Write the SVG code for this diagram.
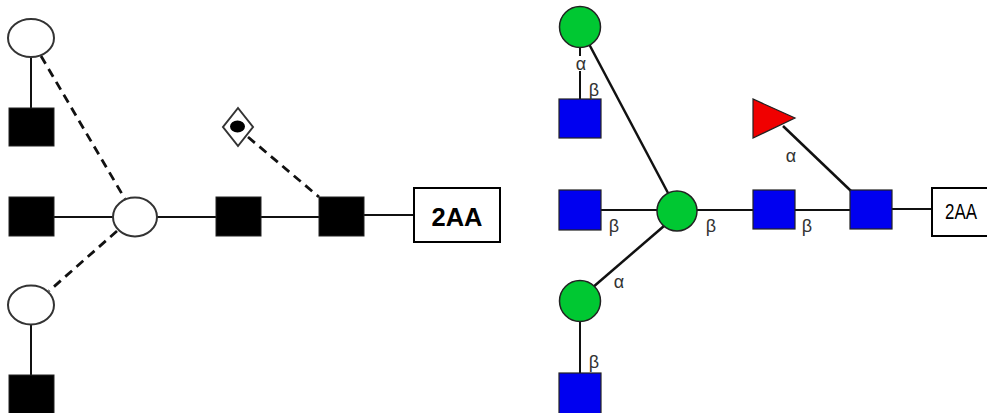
<svg xmlns="http://www.w3.org/2000/svg" width="987" height="413" viewBox="0 0 987 413">
<style>
.ln{stroke:#111;stroke-width:2;fill:none}
.lnr{stroke:#111;stroke-width:2.5;fill:none}
.dash{stroke:#111;stroke-width:2.8;stroke-dasharray:9 6;fill:none}
.wo{fill:#fff;stroke:#333;stroke-width:2}
.bk{fill:#000;stroke:#222;stroke-width:1}
.gr{fill:#00c832;stroke:#222;stroke-width:1.5}
.bl{fill:#0000f0;stroke:#222;stroke-width:1.2}
.rd{fill:#f00000;stroke:#222;stroke-width:1.2}
.box{fill:#fff;stroke:#000;stroke-width:2}
.gk{font-family:"Liberation Sans","DejaVu Sans",sans-serif;font-size:18px;fill:#333;text-anchor:middle}
</style>
<rect width="987" height="413" fill="#fff"/>
<g id="connectors">
<line class="ln" x1="31" y1="57" x2="31" y2="108"/>
<line class="dash" x1="41" y1="56" x2="125" y2="199"/>
<line class="ln" x1="54" y1="217" x2="113" y2="217"/>
<line class="ln" x1="157" y1="217" x2="216" y2="217"/>
<line class="ln" x1="261" y1="217" x2="319" y2="217"/>
<line class="dash" x1="248" y1="137" x2="319" y2="197"/>
<line class="ln" x1="364" y1="215" x2="414" y2="215"/>
<line class="dash" x1="117" y1="231" x2="49" y2="291"/>
<line class="ln" x1="31" y1="325" x2="31" y2="375"/>
<line class="ln" x1="580" y1="47" x2="580" y2="56"/>
<line class="ln" x1="580" y1="71" x2="580" y2="99"/>
<line class="lnr" x1="589" y1="44" x2="668" y2="193"/>
<line class="ln" x1="601" y1="210" x2="657" y2="210"/>
<line class="ln" x1="697" y1="210" x2="753" y2="210"/>
<line class="ln" x1="795" y1="210" x2="850" y2="210"/>
<line class="lnr" x1="783" y1="126" x2="851" y2="191"/>
<line class="ln" x1="892" y1="209" x2="932" y2="209"/>
<line class="lnr" x1="664" y1="226" x2="592" y2="288"/>
<line class="ln" x1="580" y1="321" x2="580" y2="373"/>
</g>
<g id="L-gal-top"><ellipse class="wo" cx="31" cy="38" rx="23" ry="19"/></g>
<g id="L-glcnac-top"><rect class="bk" x="9" y="108" width="45" height="38"/></g>
<g id="L-glcnac-mid"><rect class="bk" x="9" y="197" width="45" height="39"/></g>
<g id="L-man-core"><ellipse class="wo" cx="135" cy="217" rx="22" ry="19.5"/></g>
<g id="L-glcnac-2"><rect class="bk" x="216" y="197" width="45" height="39"/></g>
<g id="L-glcnac-1"><rect class="bk" x="319" y="197" width="45" height="39"/></g>
<g id="L-fuc"><polygon class="wo" points="238,108 253,127 238,146 223,127"/><ellipse cx="237.5" cy="126.5" rx="7.5" ry="6" fill="#000"/></g>
<g id="L-2AA"><rect class="box" x="414" y="188" width="86" height="54"/><text x="457" y="226" font-family="'Liberation Sans',Arial,sans-serif" font-weight="bold" font-size="25" text-anchor="middle" fill="#000" textLength="51" lengthAdjust="spacingAndGlyphs">2AA</text></g>
<g id="L-gal-bot"><ellipse class="wo" cx="31" cy="305" rx="23" ry="19.5"/></g>
<g id="L-glcnac-bot"><rect class="bk" x="9" y="375" width="45" height="40"/></g>
<g id="R-man-top"><circle class="gr" cx="580" cy="27" r="20.5"/></g>
<g id="R-glcnac-top"><rect class="bl" x="559" y="99" width="42" height="39"/></g>
<g id="R-glcnac-mid"><rect class="bl" x="559" y="190" width="42" height="40"/></g>
<g id="R-man-core"><circle class="gr" cx="677" cy="211" r="20"/></g>
<g id="R-glcnac-2"><rect class="bl" x="753" y="190" width="42" height="39"/></g>
<g id="R-glcnac-1"><rect class="bl" x="850" y="190" width="42" height="39"/></g>
<g id="R-fuc"><polygon class="rd" points="753,99 753,138 795,118"/></g>
<g id="R-2AA"><rect class="box" x="932" y="188" width="60" height="48"/><text x="961" y="219" font-family="'Liberation Sans',Arial,sans-serif" font-size="22" text-anchor="middle" fill="#000" textLength="32" lengthAdjust="spacingAndGlyphs">2AA</text></g>
<g id="R-man-bot"><circle class="gr" cx="580" cy="301" r="20.5"/></g>
<g id="R-glcnac-bot"><rect class="bl" x="559" y="373" width="42" height="42"/></g>
<g id="labels">
<text class="gk" x="581" y="70">α</text>
<text class="gk" x="594" y="96">β</text>
<text class="gk" x="614" y="232">β</text>
<text class="gk" x="711" y="232">β</text>
<text class="gk" x="807" y="232">β</text>
<text class="gk" x="791" y="162">α</text>
<text class="gk" x="619" y="288">α</text>
<text class="gk" x="594" y="368">β</text>
</g>
</svg>
